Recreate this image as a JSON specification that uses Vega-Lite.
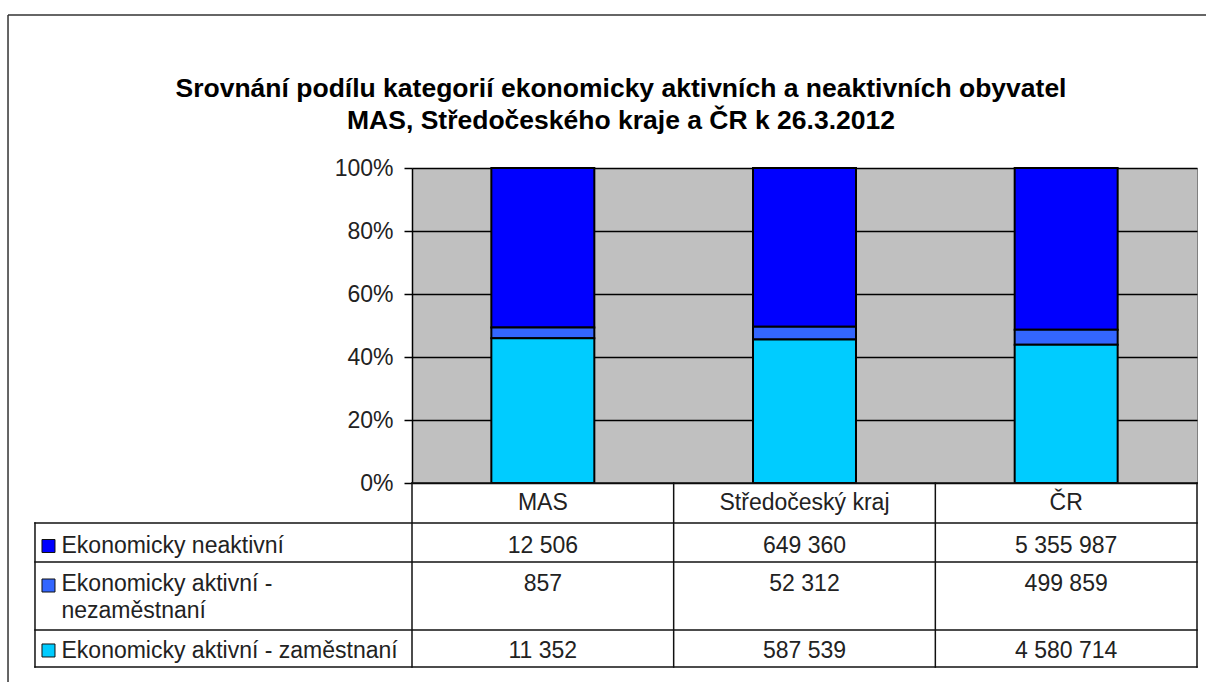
{
  "$schema": "https://vega.github.io/schema/vega-lite/v6.json",
  "width": 785,
  "height": 315,
  "padding": {"left": 7, "top": 14, "right": 0, "bottom": 0},
  "background": "white",
  "title": {
    "text": ["Srovnání podílu kategorií ekonomicky aktivních a neaktivních obyvatel", "MAS, Středočeského kraje a ČR k 26.3.2012"],
    "font": "Liberation Sans",
    "fontSize": 26.5,
    "fontWeight": "bold",
    "color": "#000",
    "lineHeight": 32,
    "anchor": "middle",
    "frame": "bounds",
    "offset": -120,
    "dx": 14
  },
  "data": {
    "values": [
      {"area": "MAS", "series": "Ekonomicky neaktivní", "count": 12506},
      {"area": "MAS", "series": "Ekonomicky aktivní - nezaměstnaní", "count": 857},
      {"area": "MAS", "series": "Ekonomicky aktivní - zaměstnaní", "count": 11352},
      {"area": "Středočeský kraj", "series": "Ekonomicky neaktivní", "count": 649360},
      {"area": "Středočeský kraj", "series": "Ekonomicky aktivní - nezaměstnaní", "count": 52312},
      {"area": "Středočeský kraj", "series": "Ekonomicky aktivní - zaměstnaní", "count": 587539},
      {"area": "ČR", "series": "Ekonomicky neaktivní", "count": 5355987},
      {"area": "ČR", "series": "Ekonomicky aktivní - nezaměstnaní", "count": 499859},
      {"area": "ČR", "series": "Ekonomicky aktivní - zaměstnaní", "count": 4580714}
    ]
  },
  "resolve": {"scale": {"x": "independent"}, "axis": {"y": "independent", "x": "independent"}},
  "layer": [
    {
      "transform": [{"calculate": "indexof(['Ekonomicky aktivní - zaměstnaní', 'Ekonomicky aktivní - nezaměstnaní', 'Ekonomicky neaktivní'], datum.series)", "as": "stackOrder"}],
      "mark": {"type": "bar", "stroke": "#000", "strokeWidth": 2},
      "encoding": {
        "x": {"field": "area", "type": "nominal", "sort": ["MAS", "Středočeský kraj", "ČR"], "scale": {"paddingInner": 0.6064, "paddingOuter": 0.3032}, "axis": null},
        "y": {
          "field": "count", "type": "quantitative", "stack": "normalize",
          "scale": {"domain": [0, 1], "nice": false, "zero": false},
          "axis": {
            "values": [0, 0.2, 0.4, 0.6, 0.8, 1], "format": ".0%", "title": null,
            "grid": true, "gridColor": "#000", "gridOpacity": 1, "gridWidth": 1.5,
            "domainColor": "#000", "domainWidth": 1.5, "tickColor": "#000", "tickSize": 8, "tickWidth": 1.5,
            "labelPadding": 11, "labelFontSize": 23, "labelFont": "Liberation Sans", "labelColor": "#222"
          }
        },
        "order": {"field": "stackOrder", "type": "quantitative", "sort": "ascending"},
        "color": {
          "field": "series", "type": "nominal",
          "scale": {"domain": ["Ekonomicky aktivní - zaměstnaní", "Ekonomicky aktivní - nezaměstnaní", "Ekonomicky neaktivní"], "range": ["#00CCFF", "#3366FF", "#0000FF"]},
          "legend": null
        }
      }
    },
    {
      "transform": [{"filter": "datum.series === 'Ekonomicky neaktivní'"}],
      "mark": {"type": "text", "fontSize": 23, "font": "Liberation Sans", "color": "#222", "baseline": "alphabetic", "align": "center"},
      "encoding": {
        "x": {"field": "area", "type": "nominal", "sort": ["MAS", "Středočeský kraj", "ČR"], "axis": null},
        "y": {"datum": -0.0857, "type": "quantitative", "scale": {"domain": [0, 1], "nice": false, "zero": false}, "axis": null},
        "text": {"field": "area", "type": "nominal"}
      }
    },
    {
      "transform": [{"filter": "datum.series === 'Ekonomicky neaktivní'"}],
      "mark": {"type": "text", "fontSize": 23, "font": "Liberation Sans", "color": "#222", "baseline": "alphabetic", "align": "center"},
      "encoding": {
        "x": {"field": "area", "type": "nominal", "sort": ["MAS", "Středočeský kraj", "ČR"], "axis": null},
        "y": {"datum": -0.2222, "type": "quantitative", "scale": {"domain": [0, 1], "nice": false, "zero": false}, "axis": null},
        "text": {"field": "count", "type": "quantitative", "format": ",d"}
      }
    },
    {
      "transform": [{"filter": "datum.series === 'Ekonomicky aktivní - nezaměstnaní'"}],
      "mark": {"type": "text", "fontSize": 23, "font": "Liberation Sans", "color": "#222", "baseline": "alphabetic", "align": "center"},
      "encoding": {
        "x": {"field": "area", "type": "nominal", "sort": ["MAS", "Středočeský kraj", "ČR"], "axis": null},
        "y": {"datum": -0.3444, "type": "quantitative", "scale": {"domain": [0, 1], "nice": false, "zero": false}, "axis": null},
        "text": {"field": "count", "type": "quantitative", "format": ",d"}
      }
    },
    {
      "transform": [{"filter": "datum.series === 'Ekonomicky aktivní - zaměstnaní'"}],
      "mark": {"type": "text", "fontSize": 23, "font": "Liberation Sans", "color": "#222", "baseline": "alphabetic", "align": "center"},
      "encoding": {
        "x": {"field": "area", "type": "nominal", "sort": ["MAS", "Středočeský kraj", "ČR"], "axis": null},
        "y": {"datum": -0.5556, "type": "quantitative", "scale": {"domain": [0, 1], "nice": false, "zero": false}, "axis": null},
        "text": {"field": "count", "type": "quantitative", "format": ",d"}
      }
    },
    {
      "transform": [{"filter": "datum.area === 'MAS' && datum.series === 'Ekonomicky neaktivní'"}],
      "mark": {"type": "text", "fontSize": 23, "font": "Liberation Sans", "color": "#222", "baseline": "alphabetic", "align": "left"},
      "encoding": {
        "x": {"datum": -1.3395, "type": "quantitative", "scale": {"domain": [0, 3], "nice": false, "zero": false}, "axis": null},
        "y": {"datum": -0.2222, "type": "quantitative", "scale": {"domain": [0, 1], "nice": false, "zero": false}, "axis": null},
        "text": {"field": "series", "type": "nominal"}
      }
    },
    {
      "transform": [
        {"filter": "datum.area === 'MAS' && datum.series === 'Ekonomicky aktivní - nezaměstnaní'"},
        {"calculate": "replace(datum.series, ' - ', ' -\\n')", "as": "label"}
      ],
      "mark": {"type": "text", "fontSize": 23, "font": "Liberation Sans", "color": "#222", "baseline": "alphabetic", "align": "left", "lineBreak": "\n", "lineHeight": 27},
      "encoding": {
        "x": {"datum": -1.3395, "type": "quantitative", "scale": {"domain": [0, 3], "nice": false, "zero": false}, "axis": null},
        "y": {"datum": -0.3444, "type": "quantitative", "scale": {"domain": [0, 1], "nice": false, "zero": false}, "axis": null},
        "text": {"field": "label", "type": "nominal"}
      }
    },
    {
      "transform": [{"filter": "datum.area === 'MAS' && datum.series === 'Ekonomicky aktivní - zaměstnaní'"}],
      "mark": {"type": "text", "fontSize": 23, "font": "Liberation Sans", "color": "#222", "baseline": "alphabetic", "align": "left"},
      "encoding": {
        "x": {"datum": -1.3395, "type": "quantitative", "scale": {"domain": [0, 3], "nice": false, "zero": false}, "axis": null},
        "y": {"datum": -0.5556, "type": "quantitative", "scale": {"domain": [0, 1], "nice": false, "zero": false}, "axis": null},
        "text": {"field": "series", "type": "nominal"}
      }
    },
    {
      "transform": [{"filter": "datum.area === 'MAS' && datum.series === 'Ekonomicky neaktivní'"}],
      "mark": {"type": "square", "size": 169, "filled": true, "opacity": 1, "stroke": "#111", "strokeWidth": 1},
      "encoding": {
        "x": {"datum": -1.3892, "type": "quantitative", "scale": {"domain": [0, 3], "nice": false, "zero": false}, "axis": null},
        "y": {"datum": -0.2, "type": "quantitative", "scale": {"domain": [0, 1], "nice": false, "zero": false}, "axis": null},
        "color": {"field": "series", "type": "nominal", "legend": null}
      }
    },
    {
      "transform": [{"filter": "datum.area === 'MAS' && datum.series === 'Ekonomicky aktivní - nezaměstnaní'"}],
      "mark": {"type": "square", "size": 169, "filled": true, "opacity": 1, "stroke": "#111", "strokeWidth": 1},
      "encoding": {
        "x": {"datum": -1.3892, "type": "quantitative", "scale": {"domain": [0, 3], "nice": false, "zero": false}, "axis": null},
        "y": {"datum": -0.3254, "type": "quantitative", "scale": {"domain": [0, 1], "nice": false, "zero": false}, "axis": null},
        "color": {"field": "series", "type": "nominal", "legend": null}
      }
    },
    {
      "transform": [{"filter": "datum.area === 'MAS' && datum.series === 'Ekonomicky aktivní - zaměstnaní'"}],
      "mark": {"type": "square", "size": 169, "filled": true, "opacity": 1, "stroke": "#111", "strokeWidth": 1},
      "encoding": {
        "x": {"datum": -1.3892, "type": "quantitative", "scale": {"domain": [0, 3], "nice": false, "zero": false}, "axis": null},
        "y": {"datum": -0.5317, "type": "quantitative", "scale": {"domain": [0, 1], "nice": false, "zero": false}, "axis": null},
        "color": {"field": "series", "type": "nominal", "legend": null}
      }
    },
    {
      "data": {"values": [{}]},
      "mark": {"type": "rule", "stroke": "#111", "strokeWidth": 1.5, "strokeCap": "square"},
      "encoding": {
        "x": {"datum": 0, "type": "quantitative", "scale": {"domain": [0, 3], "nice": false, "zero": false}, "axis": null},
        "x2": {"datum": 3},
        "y": {"datum": 0, "type": "quantitative", "scale": {"domain": [0, 1], "nice": false, "zero": false}, "axis": null}
      }
    },
    {
      "data": {"values": [{}]},
      "mark": {"type": "rule", "stroke": "#111", "strokeWidth": 1.5, "strokeCap": "square"},
      "encoding": {
        "x": {"datum": -1.4408, "type": "quantitative", "scale": {"domain": [0, 3], "nice": false, "zero": false}, "axis": null},
        "x2": {"datum": 3},
        "y": {"datum": -0.127, "type": "quantitative", "scale": {"domain": [0, 1], "nice": false, "zero": false}, "axis": null}
      }
    },
    {
      "data": {"values": [{}]},
      "mark": {"type": "rule", "stroke": "#111", "strokeWidth": 1.5, "strokeCap": "square"},
      "encoding": {
        "x": {"datum": -1.4408, "type": "quantitative", "scale": {"domain": [0, 3], "nice": false, "zero": false}, "axis": null},
        "x2": {"datum": 3},
        "y": {"datum": -0.2508, "type": "quantitative", "scale": {"domain": [0, 1], "nice": false, "zero": false}, "axis": null}
      }
    },
    {
      "data": {"values": [{}]},
      "mark": {"type": "rule", "stroke": "#111", "strokeWidth": 1.5, "strokeCap": "square"},
      "encoding": {
        "x": {"datum": -1.4408, "type": "quantitative", "scale": {"domain": [0, 3], "nice": false, "zero": false}, "axis": null},
        "x2": {"datum": 3},
        "y": {"datum": -0.4667, "type": "quantitative", "scale": {"domain": [0, 1], "nice": false, "zero": false}, "axis": null}
      }
    },
    {
      "data": {"values": [{}]},
      "mark": {"type": "rule", "stroke": "#111", "strokeWidth": 1.5, "strokeCap": "square"},
      "encoding": {
        "x": {"datum": -1.4408, "type": "quantitative", "scale": {"domain": [0, 3], "nice": false, "zero": false}, "axis": null},
        "x2": {"datum": 3},
        "y": {"datum": -0.5841, "type": "quantitative", "scale": {"domain": [0, 1], "nice": false, "zero": false}, "axis": null}
      }
    },
    {
      "data": {"values": [{}]},
      "mark": {"type": "rule", "stroke": "#111", "strokeWidth": 1.5, "strokeCap": "square"},
      "encoding": {
        "x": {"datum": -1.4408, "type": "quantitative", "scale": {"domain": [0, 3], "nice": false, "zero": false}, "axis": null},
        "y": {"datum": -0.127, "type": "quantitative", "scale": {"domain": [0, 1], "nice": false, "zero": false}, "axis": null},
        "y2": {"datum": -0.5841}
      }
    },
    {
      "data": {"values": [{}]},
      "mark": {"type": "rule", "stroke": "#111", "strokeWidth": 1.5, "strokeCap": "square"},
      "encoding": {
        "x": {"datum": 0, "type": "quantitative", "scale": {"domain": [0, 3], "nice": false, "zero": false}, "axis": null},
        "y": {"datum": 0, "type": "quantitative", "scale": {"domain": [0, 1], "nice": false, "zero": false}, "axis": null},
        "y2": {"datum": -0.5841}
      }
    },
    {
      "data": {"values": [{}]},
      "mark": {"type": "rule", "stroke": "#111", "strokeWidth": 1.5, "strokeCap": "square"},
      "encoding": {
        "x": {"datum": 1, "type": "quantitative", "scale": {"domain": [0, 3], "nice": false, "zero": false}, "axis": null},
        "y": {"datum": 0, "type": "quantitative", "scale": {"domain": [0, 1], "nice": false, "zero": false}, "axis": null},
        "y2": {"datum": -0.5841}
      }
    },
    {
      "data": {"values": [{}]},
      "mark": {"type": "rule", "stroke": "#111", "strokeWidth": 1.5, "strokeCap": "square"},
      "encoding": {
        "x": {"datum": 2, "type": "quantitative", "scale": {"domain": [0, 3], "nice": false, "zero": false}, "axis": null},
        "y": {"datum": 0, "type": "quantitative", "scale": {"domain": [0, 1], "nice": false, "zero": false}, "axis": null},
        "y2": {"datum": -0.5841}
      }
    },
    {
      "data": {"values": [{}]},
      "mark": {"type": "rule", "stroke": "#111", "strokeWidth": 1.5, "strokeCap": "square"},
      "encoding": {
        "x": {"datum": 3, "type": "quantitative", "scale": {"domain": [0, 3], "nice": false, "zero": false}, "axis": null},
        "y": {"datum": 0, "type": "quantitative", "scale": {"domain": [0, 1], "nice": false, "zero": false}, "axis": null},
        "y2": {"datum": -0.5841}
      }
    },
    {
      "data": {"values": [{}]},
      "mark": {"type": "rule", "stroke": "#333", "strokeWidth": 1.5},
      "encoding": {
        "x": {"datum": -1.5439, "type": "quantitative", "scale": {"domain": [0, 3], "nice": false, "zero": false}, "axis": null},
        "x2": {"datum": 3.0344},
        "y": {"datum": 1.4857, "type": "quantitative", "scale": {"domain": [0, 1], "nice": false, "zero": false}, "axis": null}
      }
    },
    {
      "data": {"values": [{}]},
      "mark": {"type": "rule", "stroke": "#333", "strokeWidth": 1.5},
      "encoding": {
        "x": {"datum": -1.5439, "type": "quantitative", "scale": {"domain": [0, 3], "nice": false, "zero": false}, "axis": null},
        "y": {"datum": 1.4857, "type": "quantitative", "scale": {"domain": [0, 1], "nice": false, "zero": false}, "axis": null},
        "y2": {"datum": -0.6317}
      }
    }
  ],
  "config": {
    "font": "Liberation Sans",
    "view": {"fill": "#C0C0C0", "stroke": "#808080", "strokeWidth": 1},
    "locale": {
      "number": {"decimal": ",", "thousands": " ", "grouping": [3], "currency": ["", " Kč"]}
    }
  }
}
